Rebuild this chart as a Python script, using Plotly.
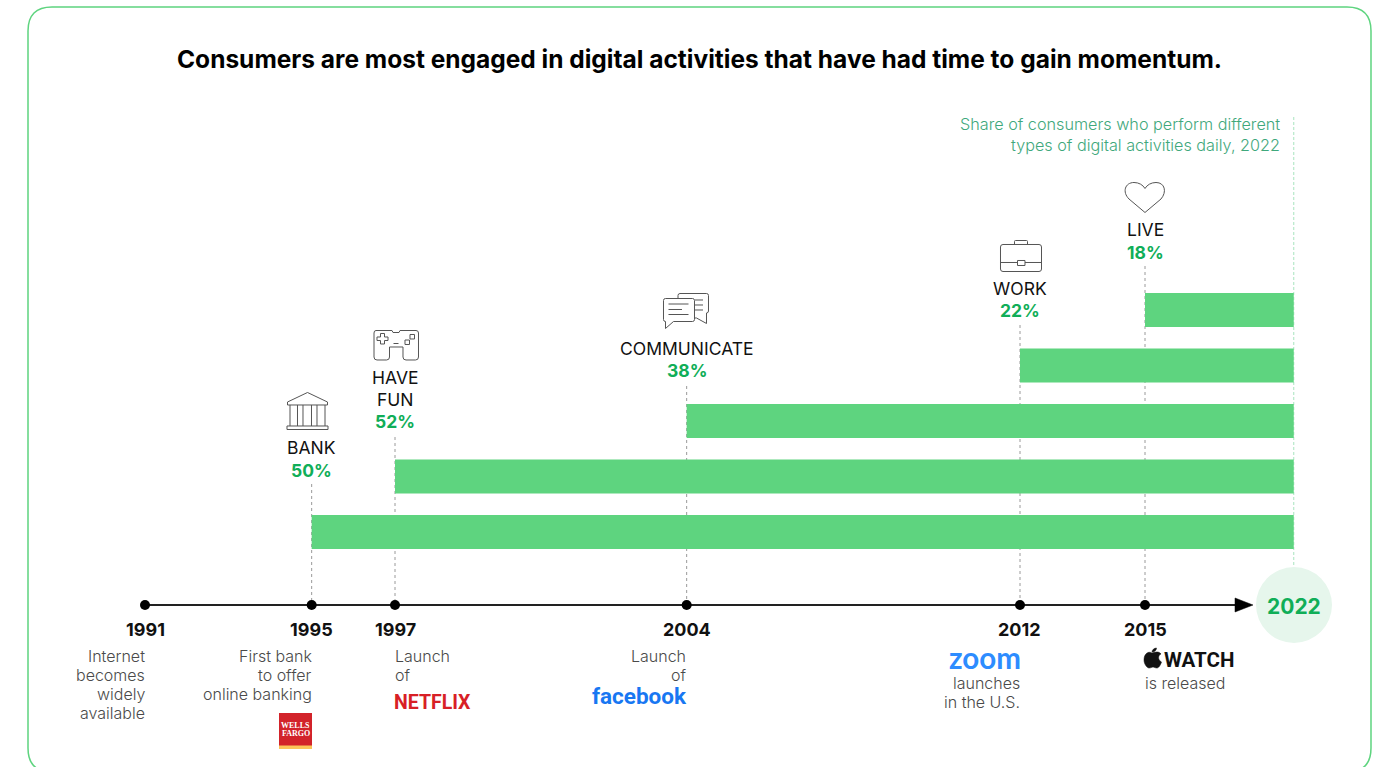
import re
import plotly.graph_objects as go

# Timeline milestones
event_years = [1991, 1995, 1997, 2004, 2012, 2015]
end_year = 2022

# Daily digital activities, bottom row first
activities = [["BANK"], ["HAVE", "FUN"], ["COMMUNICATE"], ["WORK"], ["LIVE"]]
activity_start = [1995, 1997, 2004, 2012, 2015]
activity_share = [50, 52, 38, 22, 18]

title_text = "Consumers are most engaged in digital activities that have had time to gain momentum."
subtitle_lines = ["Share of consumers who perform different", "types of digital activities daily, 2022"]

W, H = 1378, 767
PX_PER_YEAR = 1000 / 24
ROW_PX = 55.5
BOTTOM_ROW_PX = 532

GREEN_BAR = "#5ed47f"
GREEN_TEXT = "#10ae58"
ICON = "#555555"
BODY_FONT = "Inter"


def axis_pos(year):
    # The years after 2015 are drawn on a compressed stretch of the axis
    return year if year <= 2015 else 2015 + (year - 2015) * 0.51


def px_x(year):
    return 145 + (axis_pos(year) - 1991) * PX_PER_YEAR


def paper_path(path):
    # Turns a path written in page pixels into paper fractions
    out, is_x = [], True
    for tok in re.findall(r"[MLCQZ]|-?\d+\.?\d*", path):
        if tok.isalpha():
            out.append(tok)
            is_x = True
        else:
            v = float(tok)
            out.append(f"{v / W:.5f}" if is_x else f"{1 - v / H:.5f}")
            is_x = not is_x
    return " ".join(out)


shapes, annotations = [], []


def outline(path, color=ICON, width=1, fill=None, layer="above"):
    shapes.append(dict(type="path", xref="paper", yref="paper", path=paper_path(path),
                       line=dict(color=color, width=width),
                       fillcolor=fill or "rgba(0,0,0,0)", layer=layer))


def label(x, y, text, size=15, color="#444444", anchor="center", weight=400, family=BODY_FONT):
    annotations.append(dict(xref="paper", yref="paper", x=x / W, y=1 - y / H, text=text,
                            showarrow=False, xanchor=anchor, yanchor="middle",
                            borderpad=0, borderwidth=0,
                            font=dict(size=size, color=color, family=family, weight=weight)))


# Card outline, running off the bottom of the page
outline("M 52 7 L 1347 7 Q 1371 7 1371 31 L 1371 748 Q 1371 772 1347 772 "
        "L 52 772 Q 28 772 28 748 L 28 31 Q 28 7 52 7 Z", color=GREEN_BAR, width=1.5, layer="below")

# Dashed stems from each activity label down to the timeline
stem_tops = [484, 437, 386, 325, 266]
for yr, top in zip(activity_start, stem_tops):
    shapes.append(dict(type="line", xref="x", yref="paper", x0=yr, x1=yr, y0=1 - top / H, y1=1 - 600 / H,
                       line=dict(color="#9a9a9a", width=1, dash="3px,3px"), layer="below"))
shapes.append(dict(type="line", xref="x", yref="paper", x0=axis_pos(end_year), x1=axis_pos(end_year),
                   y0=1 - 117 / H, y1=1 - 567 / H,
                   line=dict(color="#a9e4bf", width=1, dash="3px,2px"), layer="below"))

# 2022 disc
shapes.append(dict(type="circle", xref="paper", yref="paper", x0=1256 / W, x1=1332 / W,
                   y0=1 - 643 / H, y1=1 - 567 / H, fillcolor="#e6f6ec", line=dict(width=0), layer="below"))

# Timeline arrowhead
outline("M 1235 598 L 1253 605 L 1235 612 Z", color="#000000", width=0.5, fill="#000000")

# Bank icon
outline("M 307.5 392.5 L 287.5 402 L 287.5 405 L 327.5 405 L 327.5 402 Z")
outline("M 290 405 L 290 426 M 297.5 405 L 297.5 426 M 303 405 L 303 426 M 311.5 405 L 311.5 426 "
        "M 317 405 L 317 426 M 325 405 L 325 426")
outline("M 287 426 L 328 426 L 328 429.5 L 287 429.5 Z")

# Game controller icon
outline("M 376 330.5 L 392 330.5 L 393 332.5 L 399 332.5 L 400 330.5 L 416 330.5 Q 418.5 330.5 418.5 333 "
        "L 418.5 357 Q 418.5 360 415.5 360 L 406 360 Q 403 360 403 357 L 403 347 L 389.5 347 L 389.5 357 "
        "Q 389.5 360 386.5 360 L 377 360 Q 374 360 374 357 L 374 333 Q 374 330.5 376 330.5 Z")
outline("M 380.5 333.5 L 384.5 333.5 L 384.5 337 L 388 337 L 388 340.5 L 384.5 340.5 L 384.5 344 L 380.5 344 "
        "L 380.5 340.5 L 377 340.5 L 377 337 L 380.5 337 Z")
outline("M 405 340 L 409.5 340 L 409.5 344.5 L 405 344.5 Z M 410 334.5 L 414.5 334.5 L 414.5 339 L 410 339 Z")
outline("M 393.5 343.5 L 398.5 343.5")

# Speech bubbles icon
outline("M 678 298 L 678 295.5 Q 678 293.5 680 293.5 L 706.5 293.5 Q 708.5 293.5 708.5 295.5 L 708.5 311 "
        "Q 708.5 313 706.5 313 L 706.5 323.5 L 696.5 318 L 694.5 318")
outline("M 665.5 298.5 L 692.5 298.5 Q 694.5 298.5 694.5 300.5 L 694.5 319.5 Q 694.5 321.5 692.5 321.5 "
        "L 673.5 321.5 L 665.5 328.5 L 665.5 321.5 Q 663.5 321.5 663.5 319.5 L 663.5 300.5 Q 663.5 298.5 665.5 298.5 Z")
outline("M 668.5 304 L 688.5 304 M 668.5 309.5 L 682 309.5 M 668.5 314.5 L 688.5 314.5")
outline("M 695 300 L 703 300 M 695 305 L 703 305 M 695 310 L 703 310")

# Briefcase icon
outline("M 1003 244.5 L 1039 244.5 Q 1041.5 244.5 1041.5 247 L 1041.5 269 Q 1041.5 271.5 1039 271.5 "
        "L 1003 271.5 Q 1000.5 271.5 1000.5 269 L 1000.5 247 Q 1000.5 244.5 1003 244.5 Z")
outline("M 1014.5 244.5 L 1014.5 241.5 Q 1014.5 240.5 1015.5 240.5 L 1026.5 240.5 Q 1027.5 240.5 1027.5 241.5 L 1027.5 244.5")
outline("M 1000.5 262.5 L 1017.5 262.5 M 1025 262.5 L 1041.5 262.5")
outline("M 1017.5 260.5 L 1025 260.5 L 1025 265.5 L 1017.5 265.5 Z")

# Heart icon
outline("M 1145 212.5 L 1129 199 C 1122 192 1125 182.5 1134 182.5 C 1139 182.5 1143 185 1145 188.5 "
        "C 1147 185 1151 182.5 1156 182.5 C 1165 182.5 1167 192 1161 199 Z")

# Wells Fargo badge
shapes.append(dict(type="rect", xref="paper", yref="paper", x0=279 / W, x1=312 / W, y0=1 - 746 / H, y1=1 - 713 / H,
                   fillcolor="#d2232a", line=dict(width=0), layer="above"))
shapes.append(dict(type="rect", xref="paper", yref="paper", x0=279 / W, x1=312 / W, y0=1 - 749 / H, y1=1 - 745.5 / H,
                   fillcolor="#fbc45a", line=dict(width=0), layer="above"))

# Apple mark beside the WATCH wordmark
outline("M 1152 653 C 1149 651 1144 653 1144 660 C 1144 664 1147 668 1149 668 C 1151 668 1152 667 1153 667 "
        "C 1154 667 1155 668 1157 668 C 1159 668 1161 664 1161.5 662 C 1157.5 660 1158 655 1161 654 "
        "C 1159 651 1155 652 1152 653 Z", color="#111111", width=0.5, fill="#111111")
outline("M 1152 652 C 1152 650 1154 648 1156.5 648 C 1156.5 650 1155 652 1152 652 Z", color="#111111", width=0.5, fill="#111111")

# Headline and subtitle
label(699, 59, f"<b>{title_text}</b>", size=24.5, color="#000000")
for i, line in enumerate(subtitle_lines):
    label(1280, 123.5 + 21.5 * i, line, size=16.2, color="#3fa87c", anchor="right", weight=300)

# Activity names and shares, stacked upwards from each stem
name_bottom = [448, 399, 348, 289, 230]
for yr, lines, share, y in zip(activity_start, activities, activity_share, name_bottom):
    x = px_x(yr)
    for i, line in enumerate(lines):
        label(x, y - 22 * (len(lines) - 1 - i), line, size=17.5, color="#111111")
    label(x, y + 22, f"<b>{share}%</b>", size=17.5, color=GREEN_TEXT)

# Year labels under the timeline
for yr in event_years:
    label(px_x(yr), 629, f"<b>{yr}</b>", size=18, color="#111111")
label(1294, 606, f"<b>{end_year}</b>", size=21, color=GREEN_TEXT)

# Milestone captions
captions = [
    (145, "right", 656, ["Internet", "becomes", "widely", "available"]),
    (312, "right", 656, ["First bank", "to offer", "online banking"]),
    (395, "left", 656, ["Launch", "of"]),
    (686, "right", 656, ["Launch", "of"]),
    (1020, "right", 683, ["launches", "in the U.S."]),
    (1145, "left", 683, ["is released"]),
]
for x, anchor, top, lines in captions:
    for i, line in enumerate(lines):
        label(x, top + 19 * i, line, size=16, color="#4a4a4a", anchor=anchor, weight=300)

# Company wordmarks
label(394, 702, "<b>NETFLIX</b>", size=19.5, color="#d81f26", anchor="left", family="Roboto")
label(687, 696, "<b>facebook</b>", size=22.5, color="#1877f2", anchor="right", family="Roboto")
label(1021, 657, "<b>zoom</b>", size=29.5, color="#2d8cff", anchor="right", family="Lato")
label(1234, 660, "<b>WATCH</b>", size=20.5, color="#111111", anchor="right", family="Roboto")
label(295.5, 725, "<b>WELLS</b>", size=8, color="#ffffff", family="Liberation Serif")
label(295.5, 733.5, "<b>FARGO</b>", size=8, color="#ffffff", family="Liberation Serif")

fig = go.Figure()

# Activity bars run from the year each one took off to the end of the axis
rows = list(range(len(activities)))
fig.add_trace(go.Bar(
    orientation="h",
    y=rows,
    base=activity_start,
    x=[axis_pos(end_year) - s for s in activity_start],
    width=34 / ROW_PX,
    marker=dict(color=GREEN_BAR, line=dict(width=0)),
    hoverinfo="skip",
))

# Timeline: line and milestone dots
timeline_row = (BOTTOM_ROW_PX - 605) / ROW_PX
arrow_year = 2017.35
fig.add_trace(go.Scatter(x=[event_years[0], arrow_year], y=[timeline_row] * 2, mode="lines",
                         line=dict(color="#222222", width=2), hoverinfo="skip"))
fig.add_trace(go.Scatter(x=event_years, y=[timeline_row] * len(event_years), mode="markers",
                         marker=dict(color="#000000", size=10), hoverinfo="skip"))

fig.update_layout(
    width=W, height=H, autosize=False,
    margin=dict(l=0, r=0, t=0, b=0),
    paper_bgcolor="#ffffff", plot_bgcolor="rgba(0,0,0,0)",
    showlegend=False, barmode="overlay",
    font=dict(family=BODY_FONT),
    xaxis=dict(visible=False, range=[1991 - 145 / PX_PER_YEAR, 1991 + (W - 145) / PX_PER_YEAR], fixedrange=True),
    yaxis=dict(visible=False, range=[(BOTTOM_ROW_PX - H) / ROW_PX, BOTTOM_ROW_PX / ROW_PX], fixedrange=True),
    shapes=shapes, annotations=annotations,
)

fig.write_html("out.html", config=dict(displayModeBar=False))
